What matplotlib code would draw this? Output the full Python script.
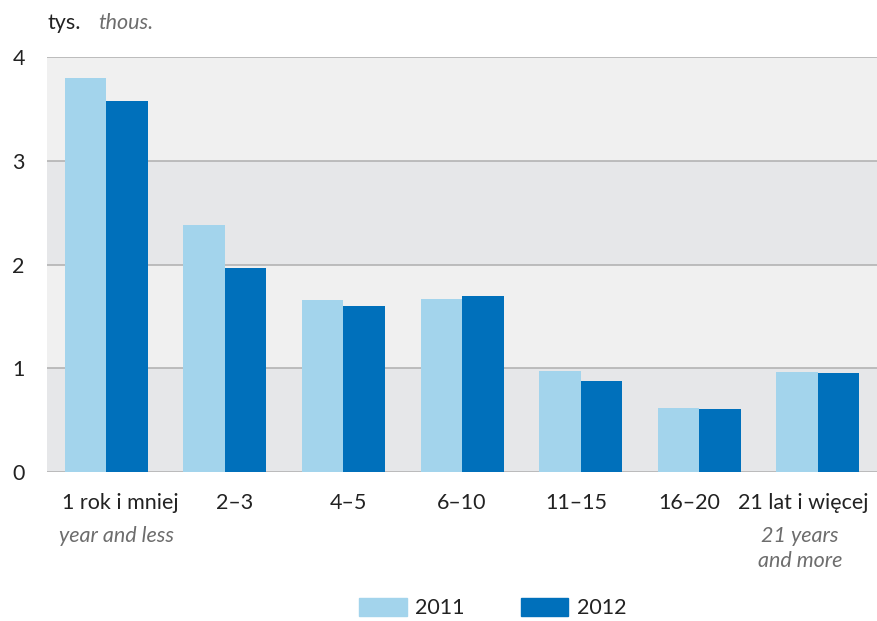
import matplotlib
matplotlib.use("Agg")
import matplotlib.pyplot as plt
import matplotlib.transforms as mtransforms
from matplotlib.patches import Patch
import numpy as np

categories = ["1 rok i mniej", "2–3", "4–5", "6–10", "11–15", "16–20", "21 lat i więcej"]
sublabels = ["year and less", "", "", "", "", "", "21 years\nand more"]
values_2011 = [3.80, 2.38, 1.66, 1.67, 0.97, 0.62, 0.96]
values_2012 = [3.58, 1.97, 1.60, 1.70, 0.88, 0.61, 0.95]
series_names = ["2011", "2012"]
yticks = [0, 1, 2, 3, 4]

c_light = "#a3d4ec"
c_dark = "#0070bb"
FS = 15.5

plt.rcParams['font.family'] = ['Lato', 'DejaVu Sans']

fig = plt.figure(figsize=(8.77, 6.21), dpi=100)
ax = fig.add_axes([0.0536, 0.2399, 0.9464, 0.6681])

x = np.arange(len(categories))
w = 0.35
ax.bar(x - w/2, values_2011, width=w, color=c_light, zorder=3, label=series_names[0])
ax.bar(x + w/2, values_2012, width=w, color=c_dark, zorder=3, label=series_names[1])

ax.set_xlim(-0.5, len(categories) - 0.5)
ax.set_ylim(0, 4)
for i in range(4):
    ax.axhspan(i, i + 1, color="#e6e7e9" if i % 2 == 0 else "#f0f0f0", zorder=0, lw=0)
for t in yticks:
    ax.axhline(t, color="#b3b3b3", lw=1.2, zorder=1)

for s in ax.spines.values():
    s.set_visible(False)

ax.set_yticks(yticks)
ax.set_yticklabels([str(t) for t in yticks], fontsize=FS, color="#222222")
ax.tick_params(axis='y', length=0, pad=16)

# category labels are spread slightly tighter than the bar groups
mid = (len(categories) - 1) / 2
lab_x = mid + (x - mid) * 0.96
ax.set_xticks(lab_x)
ax.set_xticklabels(categories, fontsize=FS, color="#222222")
ax.tick_params(axis='x', length=0, pad=15)

trans = mtransforms.blended_transform_factory(ax.transData, ax.transAxes)
for xi, sub in zip(lab_x, sublabels):
    if sub:
        ax.text(xi - 0.03, -0.131, sub, transform=trans, ha='center', va='top',
                fontsize=FS, style='italic', color="#6d6d6d", linespacing=1.3)

fig.text(47/877, 1 - 23/621, "tys.", fontsize=FS, color="#222222", va='center', ha='left')
fig.text(98/877, 1 - 23/621, "thous.", fontsize=FS, color="#6d6d6d", style='italic', va='center', ha='left')

handles = [Patch(color=c_light, label="2011"), Patch(color=c_dark, label="2012")]
fig.legend(handles=handles, loc='center', bbox_to_anchor=(0.562, 1 - 608/621), ncol=2,
           frameon=False, fontsize=FS, handlelength=2.2, handleheight=0.95,
           columnspacing=2.6, handletextpad=0.4, labelcolor="#222222")

fig.savefig("out.png", dpi=100)
